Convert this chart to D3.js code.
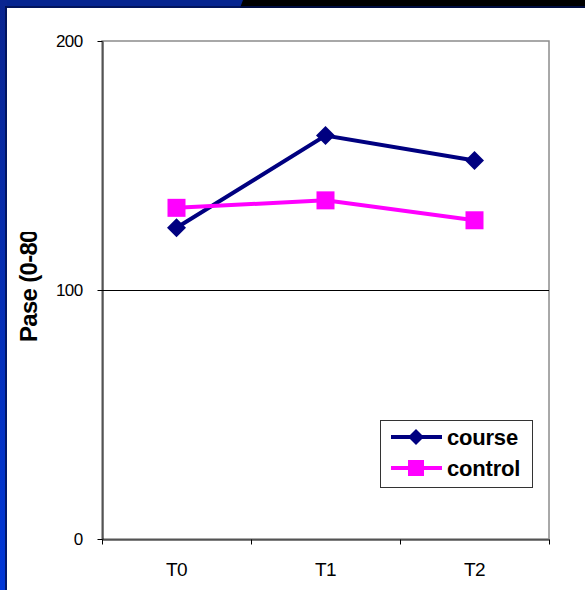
<!DOCTYPE html>
<html><head><meta charset="utf-8">
<script src="https://cdn.jsdelivr.net/npm/d3@7"></script>
<style>html,body{margin:0;padding:0;background:#fff;}svg{display:block;}</style>
</head><body>
<script>
const categories = ["T0", "T1", "T2"];
const courseValues = [125, 162, 152];
const controlValues = [133, 136, 128];
const yTicks = [0, 100, 200];
const seriesNames = ["course", "control"];

const W = 585, H = 590;
const FONT = "Liberation Sans, Arial, sans-serif";
const svg = d3.select("body").append("svg").attr("width", W).attr("height", H);

// frame
const defs = svg.append("defs");
const lg = defs.append("linearGradient").attr("id", "lgrad").attr("x1", 0).attr("y1", 0).attr("x2", 0).attr("y2", 1);
lg.append("stop").attr("offset", 0).attr("stop-color", "#0a2590");
lg.append("stop").attr("offset", 1).attr("stop-color", "#0037d8");
svg.append("rect").attr("x", 0).attr("y", 0).attr("width", W).attr("height", H).attr("fill", "#fff");
svg.append("rect").attr("x", 0).attr("y", 0).attr("width", W).attr("height", 8).attr("fill", "#000");
svg.append("path").attr("d", "M0,0 L243,0 L240,8 L0,8 Z").attr("fill", "#062590");
svg.append("rect").attr("x", 0).attr("y", 0).attr("width", 7).attr("height", H).attr("fill", "url(#lgrad)");
svg.append("rect").attr("x", 5).attr("y", 6).attr("width", 2).attr("height", H).attr("fill", "#001050").attr("opacity", 0.8);
svg.append("rect").attr("x", 5).attr("y", 6).attr("width", W).attr("height", 2).attr("fill", "#001050").attr("opacity", 0.8);

const L = 102, R = 549, T = 41, B = 539;
const x = d3.scaleBand().domain(categories).range([L, R]);
const y = d3.scaleLinear().domain([0, 200]).range([B, T]);

// plot border
svg.append("rect").attr("x", L).attr("y", T).attr("width", R - L).attr("height", B - T)
  .attr("fill", "none").attr("stroke", "#8c8c8c").attr("stroke-width", 1.5);

// gridline at 100
svg.append("g").selectAll("line").data(yTicks.filter(d => d > 0 && d < 200)).join("line")
  .attr("x1", L).attr("x2", R).attr("y1", d => y(d) + 0.5).attr("y2", d => y(d) + 0.5)
  .attr("stroke", "#000").attr("stroke-width", 1);

// y axis
const yAxis = svg.append("g").attr("transform", `translate(${L + 0.5},0)`)
  .call(d3.axisLeft(y).tickValues(yTicks).tickSize(5).tickPadding(15).tickSizeOuter(0));
yAxis.select(".domain").attr("stroke", "#000");
yAxis.selectAll("text").attr("font-family", FONT).attr("font-size", 17).attr("letter-spacing", -0.6).attr("fill", "#000");

// x axis
const xAxis = svg.append("g").attr("transform", `translate(0,${B + 0.5})`)
  .call(d3.axisBottom(x).tickSize(0).tickPadding(23).tickSizeOuter(0));
xAxis.select(".domain").attr("stroke", "#000");
xAxis.selectAll("text").attr("font-family", FONT).attr("font-size", 19).attr("letter-spacing", -0.5).attr("fill", "#000");
const bounds = categories.map(c => x(c)).concat([x(categories[categories.length - 1]) + x.bandwidth()]);
xAxis.selectAll("line.bt").data(bounds).join("line").attr("class", "bt")
  .attr("x1", d => Math.round(d) + 0.5).attr("x2", d => Math.round(d) + 0.5).attr("y1", 0).attr("y2", 5).attr("stroke", "#000");

// y title (clipped)
defs.append("clipPath").attr("id", "tclip").append("rect").attr("x", 0).attr("y", 232).attr("width", 80).attr("height", 200);
svg.append("g").attr("clip-path", "url(#tclip)")
  .append("text")
  .attr("transform", "translate(37,342) rotate(-90)")
  .attr("font-family", FONT).attr("font-weight", "bold").attr("font-size", 24)
  .attr("letter-spacing", -0.7)
  .text("Pase (0-80)");

// lines
const line = d3.line().x((d, i) => x(categories[i]) + x.bandwidth() / 2).y(d => y(d));
const colors = ["#000080", "#ff00ff"];
svg.append("path").datum(courseValues).attr("d", line).attr("fill", "none").attr("stroke", colors[0]).attr("stroke-width", 4);
svg.append("path").datum(controlValues).attr("d", line).attr("fill", "none").attr("stroke", colors[1]).attr("stroke-width", 4);

const diamond = s => `M0,${-s} L${s},0 L0,${s} L${-s},0 Z`;
svg.append("g").selectAll("path").data(courseValues).join("path")
  .attr("transform", (d, i) => `translate(${x(categories[i]) + x.bandwidth() / 2},${y(d)})`)
  .attr("d", diamond(9.5)).attr("fill", colors[0]);
svg.append("g").selectAll("rect").data(controlValues).join("rect")
  .attr("x", (d, i) => x(categories[i]) + x.bandwidth() / 2 - 9).attr("y", d => y(d) - 9)
  .attr("width", 18).attr("height", 18).attr("fill", colors[1]);

// legend
const lgd = svg.append("g");
lgd.append("rect").attr("x", 380.5).attr("y", 420.5).attr("width", 152).attr("height", 67)
  .attr("fill", "#fff").attr("stroke", "#333").attr("stroke-width", 1);
seriesNames.forEach((n, i) => {
  const cy = 437 + i * 31;
  lgd.append("line").attr("x1", 391).attr("x2", 442).attr("y1", cy).attr("y2", cy).attr("stroke", colors[i]).attr("stroke-width", 4);
  if (i === 0) lgd.append("path").attr("transform", `translate(416,${cy})`).attr("d", diamond(8)).attr("fill", colors[0]);
  else lgd.append("rect").attr("x", 416 - 8).attr("y", cy - 8).attr("width", 16).attr("height", 16).attr("fill", colors[1]);
  lgd.append("text").attr("x", 447).attr("y", cy + 7.5)
    .attr("font-family", FONT).attr("font-weight", "bold").attr("font-size", 22)
    .attr("letter-spacing", -0.2).text(n);
});
</script>
</body></html>
